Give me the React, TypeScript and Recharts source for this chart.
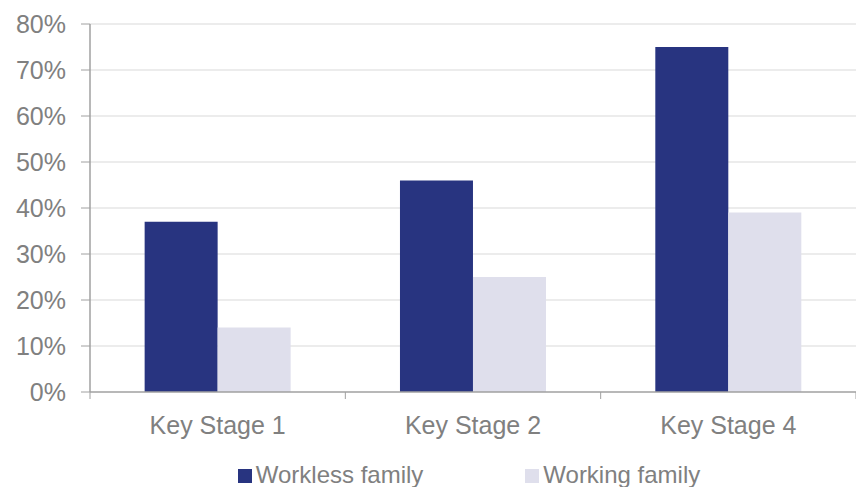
import React from 'react';
import { BarChart, Bar, XAxis, YAxis, CartesianGrid, Legend } from 'recharts';

const stages = ['Key Stage 1', 'Key Stage 2', 'Key Stage 4'];
const workless = [37, 46, 75];
const working = [14, 25, 39];
const yTicks = [0, 10, 20, 30, 40, 50, 60, 70, 80];

const NAVY = '#283480';
const LILAC = '#dfdfec';
const GREY_TEXT = '#808080';
const AXIS = '#a0a0a0';
const FONT = '"Liberation Sans", Arial, sans-serif';

const data = stages.map((s, i) => ({ stage: s, workless: workless[i], working: working[i] }));

const legendItems = [
  { label: 'Workless family', color: NAVY },
  { label: 'Working family', color: LILAC },
];

// leyenda a mano, como en el original
const Legend_: React.FC<any> = () => (
  <div style={{ height: 50, display: 'flex', justifyContent: 'center', gap: 102, paddingLeft: 82 }}>
    {legendItems.map(it => (
      <div key={it.label} style={{ display: 'flex', alignItems: 'center', marginTop: 25, height: 25 }}>
        <span style={{ display: 'inline-block', width: 14, height: 14, background: it.color, marginRight: 4, marginTop: 3 }} />
        <span style={{ fontFamily: FONT, fontSize: 24, lineHeight: '25px', color: GREY_TEXT }}>{it.label}</span>
      </div>
    ))}
  </div>
);

// etiqueta de categoría + marcas en los bordes de cada banda
const StageTick: React.FC<any> = ({ x, y, payload, index, width, visibleTicksCount }) => {
  const band = width / visibleTicksCount;
  const left = x - band / 2;
  return (
    <g>
      <line x1={left} x2={left} y1={y} y2={y + 7} stroke={AXIS} />
      {index === visibleTicksCount - 1 && (
        <line x1={left + band} x2={left + band} y1={y} y2={y + 7} stroke={AXIS} />
      )}
      <text x={x} y={y + 24} dy="0.71em" textAnchor="middle" fill={GREY_TEXT} fontSize={25} fontFamily={FONT}>
        {payload.value}
      </text>
    </g>
  );
};

export default function App() {
  return (
    <div style={{ position: 'absolute', left: 0, top: 0, width: 856, height: 487, background: '#fff' }}>
      <BarChart width={856} height={487} data={data}
        margin={{ top: 24, right: 0, left: 0, bottom: 0 }} barGap={0} barCategoryGap="21.4%">
        <CartesianGrid stroke="#d9d9d9" vertical={false} horizontalValues={yTicks.slice(1)} />
        <XAxis dataKey="stage" height={45} tickSize={0} tickMargin={0}
          axisLine={{ stroke: AXIS, strokeWidth: 1.5 }} tickLine={false}
          tick={<StageTick />} interval={0} />
        <YAxis width={90} domain={[0, 80]} ticks={yTicks} tickSize={9} tickMargin={15}
          axisLine={{ stroke: AXIS, strokeWidth: 1.5 }} tickLine={{ stroke: AXIS }}
          tick={{ fill: GREY_TEXT, fontSize: 25, fontFamily: FONT }}
          tickFormatter={(v: number) => `${v}%`} />
        <Legend verticalAlign="bottom" height={50} content={<Legend_ />} />
        <Bar dataKey="workless" name="Workless family" fill={NAVY} isAnimationActive={false} />
        <Bar dataKey="working" name="Working family" fill={LILAC} isAnimationActive={false} />
      </BarChart>
    </div>
  );
}
